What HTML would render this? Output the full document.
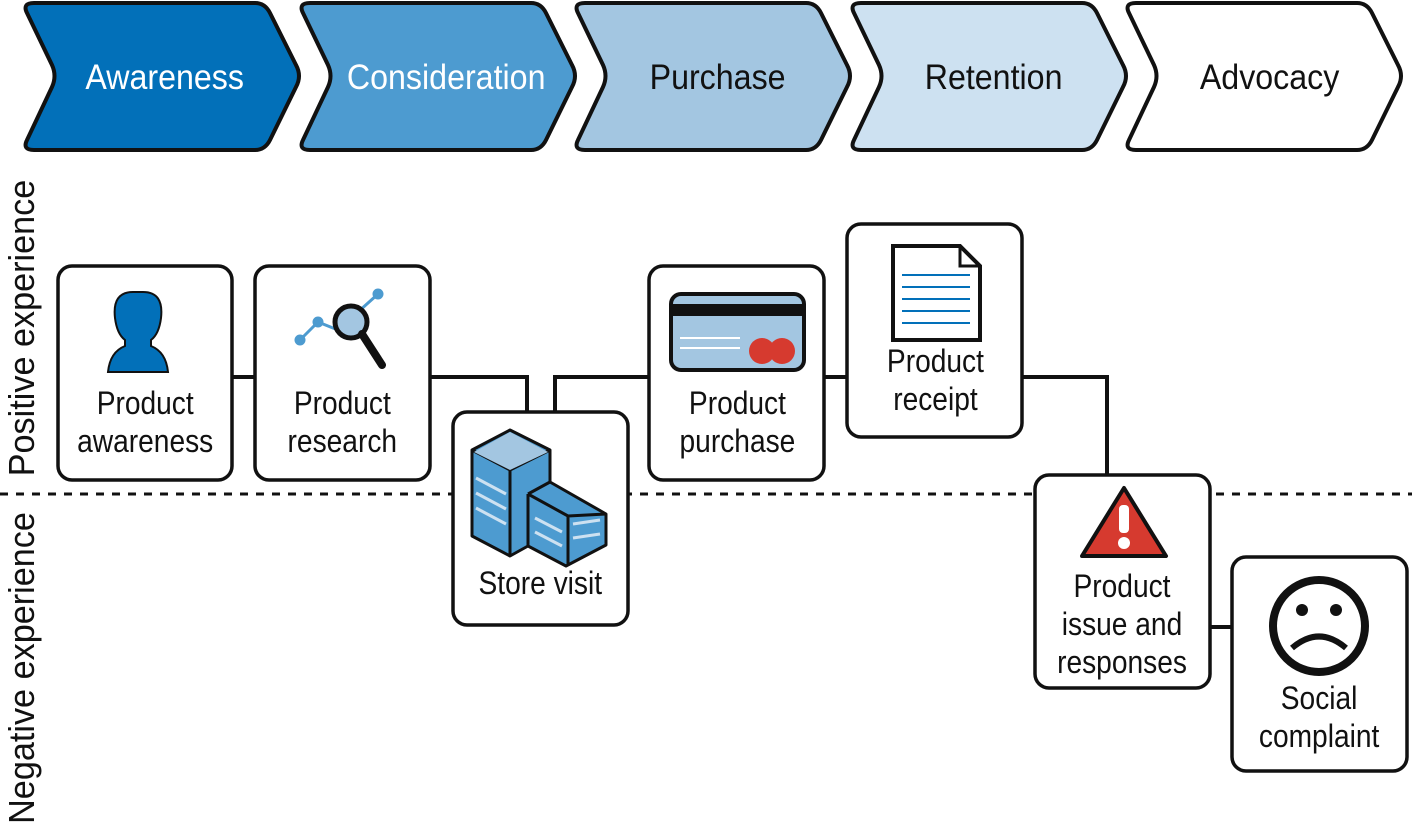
<!DOCTYPE html>
<html><head><meta charset="utf-8"><style>
body{margin:0;background:#fff;}
svg text{font-family:"Liberation Sans",sans-serif;}
</style></head><body>
<svg width="1412" height="825" viewBox="0 0 1412 825" xmlns="http://www.w3.org/2000/svg">
<defs>
<path id="chev" d="M14,0 H235 Q245,0 250,10 L276,62 Q282,73 276,84 L250,137 Q245,147 235,147 H14 Q2,147 7,137 L32,84 Q37,73 32,62 L7,10 Q2,0 14,0 Z"/>
</defs>
<g stroke="#111" stroke-width="4" stroke-linejoin="round">
<use href="#chev" x="20" y="3" fill="#0270b9"/>
<use href="#chev" x="296" y="3" fill="#4d9bd0"/>
<use href="#chev" x="571" y="3" fill="#a3c6e1"/>
<use href="#chev" x="847" y="3" fill="#cde1f1"/>
<use href="#chev" x="1122" y="3" fill="#ffffff"/>
</g>
<g font-size="35" text-anchor="middle" transform="scale(0.92,1)">
<text x="179" y="89" fill="#fff">Awareness</text>
<text x="485" y="89" fill="#fff">Consideration</text>
<text x="780" y="89" fill="#111">Purchase</text>
<text x="1080" y="89" fill="#111">Retention</text>
<text x="1380" y="89" fill="#111">Advocacy</text>
</g>
<line x1="0" y1="494" x2="1412" y2="494" stroke="#111" stroke-width="3" stroke-dasharray="8,8"/>
<g stroke="#111" stroke-width="4" fill="none">
<path d="M232,377 H255"/>
<path d="M430,377 H527 V412"/>
<path d="M555,412 V377 H649"/>
<path d="M824,377 H847"/>
<path d="M1022,377 H1107 V475"/>
<path d="M1210,627 H1232"/>
</g>
<g stroke="#111" stroke-width="3.5" fill="#fff">
<rect x="58" y="266" width="174" height="214" rx="14"/>
<rect x="255" y="266" width="175" height="214" rx="14"/>
<rect x="453" y="412" width="175" height="213" rx="14"/>
<rect x="649" y="266" width="175" height="214" rx="14"/>
<rect x="847" y="224" width="175" height="213" rx="14"/>
<rect x="1035" y="475" width="175" height="213" rx="14"/>
<rect x="1232" y="557" width="175" height="214" rx="14"/>
</g>
<!-- icons -->
<path d="M133,292 Q112,292 115,318 Q117,334 125,340 L125,346 Q110,352 108,372 H168 Q166,352 151,346 L151,340 Q159,334 161,318 Q164,292 143,292 Z" fill="#0270b9" stroke="#111" stroke-width="2"/>
<g stroke="#4d9bd0" stroke-width="3" fill="#4d9bd0"><path d="M300,340 L318,322 L338,330 L378,294" fill="none"/><circle cx="300" cy="340" r="4"/><circle cx="318" cy="322" r="4"/><circle cx="378" cy="294" r="4"/></g>
<circle cx="351" cy="322" r="16" fill="#a3c6e1" stroke="#111" stroke-width="5"/>
<line x1="362" y1="334" x2="382" y2="365" stroke="#111" stroke-width="8" stroke-linecap="round"/>
<g stroke="#111" stroke-width="3" stroke-linejoin="round">
<path d="M472,450 L510,430 L550,450 L550,482 L606,514 L606,545 L566,566 L528,546 L510,556 L472,536 Z" fill="#4d9bd0"/>
<path d="M472,450 L510,470 L550,450 M510,470 V556" fill="none"/>
<path d="M528,494 L550,482 M528,494 L568,516 L606,514 M528,494 V546 M568,516 V566" fill="none"/>
</g>
<path d="M474,452 L510,432 L548,452 L510,470 Z" fill="#a3c6e1"/>
<g stroke="#cde1f1" stroke-width="3"><path d="M476,478 L506,494 M476,493 L506,509 M476,508 L506,524 M535,518 L562,532 M535,532 L562,546 M573,524 L600,520 M573,538 L600,534"/></g>
<rect x="671" y="294" width="133" height="76" rx="10" fill="#a3c6e1" stroke="#111" stroke-width="4"/>
<rect x="673" y="304" width="129" height="12" fill="#111"/>
<g stroke="#fff" stroke-width="2"><path d="M680,338 H740 M680,348 H740"/></g>
<circle cx="762" cy="351" r="13" fill="#d63a2f"/><circle cx="782" cy="351" r="13" fill="#d63a2f"/>
<path d="M893,246 H960 L980,266 V340 H893 Z" fill="#fff" stroke="#111" stroke-width="4"/>
<path d="M960,246 V266 H980" fill="none" stroke="#111" stroke-width="3"/>
<g stroke="#0270b9" stroke-width="2"><path d="M902,275 H970 M902,287 H970 M902,299 H970 M902,311 H970 M902,323 H970"/></g>
<path d="M1124,488 L1166,556 H1082 Z" fill="#d63a2f" stroke="#111" stroke-width="4" stroke-linejoin="round"/>
<rect x="1119" y="505" width="10" height="28" rx="4" fill="#fff"/><circle cx="1124" cy="543" r="6" fill="#fff"/>
<circle cx="1319" cy="626" r="46" fill="#fff" stroke="#111" stroke-width="8"/>
<circle cx="1302" cy="610" r="6" fill="#111"/><circle cx="1336" cy="610" r="6" fill="#111"/>
<path d="M1292,648 Q1319,625 1346,648" fill="none" stroke="#111" stroke-width="6"/>
<g font-size="32" text-anchor="middle" fill="#111">
<g transform="scale(0.88,1)">
<text x="165" y="414">Product</text><text x="165" y="452">awareness</text>
<text x="389" y="414">Product</text><text x="389" y="452">research</text>
<text x="614" y="594">Store visit</text>
<text x="838" y="414">Product</text><text x="838" y="452">purchase</text>
<text x="1063" y="372">Product</text><text x="1063" y="410">receipt</text>
<text x="1275" y="597">Product</text><text x="1275" y="635">issue and</text><text x="1275" y="673">responses</text>
<text x="1499" y="709">Social</text><text x="1499" y="747">complaint</text>
</g>
</g>
<g font-size="36" text-anchor="middle" fill="#111">
<text transform="translate(34,328) rotate(-90) scale(0.95,1)">Positive experience</text>
<text transform="translate(34,668) rotate(-90) scale(0.95,1)">Negative experience</text>
</g>
</svg>
</body></html>
